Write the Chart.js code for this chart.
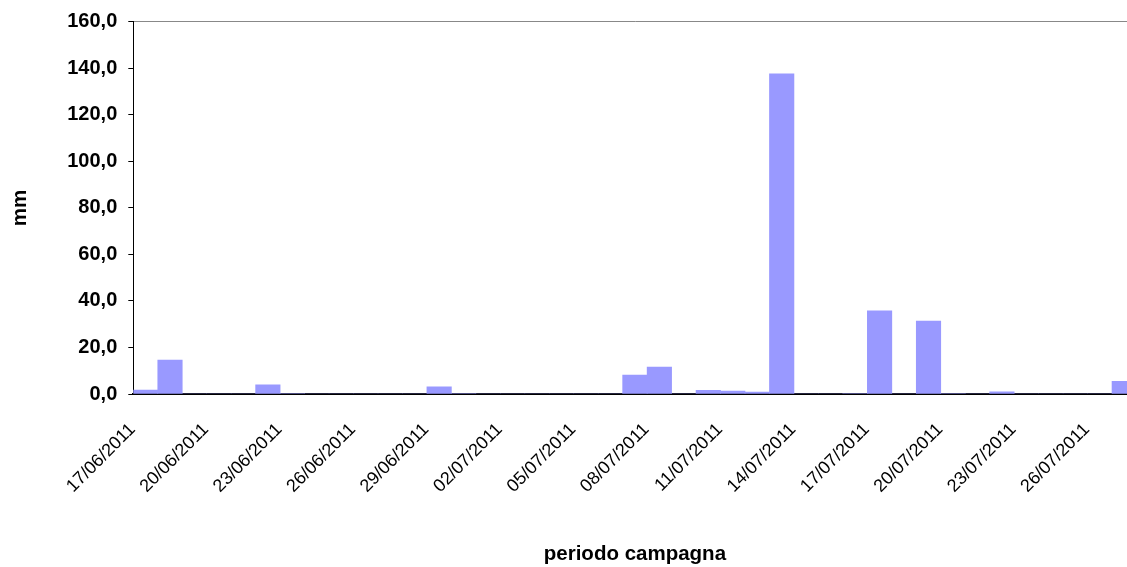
<!DOCTYPE html>
<html>
<head>
<meta charset="utf-8">
<script src="https://cdn.jsdelivr.net/npm/chart.js@4/dist/chart.umd.min.js"></script>
<style>
html,body{margin:0;padding:0;overflow:hidden;background:#fff;}
canvas{display:block;}
</style>
</head>
<body>
<canvas id="c" width="1140" height="567"></canvas>
<script>
const categories = [
  "17/06/2011","18/06/2011","19/06/2011","20/06/2011","21/06/2011","22/06/2011","23/06/2011",
  "24/06/2011","25/06/2011","26/06/2011","27/06/2011","28/06/2011","29/06/2011","30/06/2011",
  "01/07/2011","02/07/2011","03/07/2011","04/07/2011","05/07/2011","06/07/2011","07/07/2011",
  "08/07/2011","09/07/2011","10/07/2011","11/07/2011","12/07/2011","13/07/2011","14/07/2011",
  "15/07/2011","16/07/2011","17/07/2011","18/07/2011","19/07/2011","20/07/2011","21/07/2011",
  "22/07/2011","23/07/2011","24/07/2011","25/07/2011","26/07/2011","27/07/2011"
];
const rainfall = [
  1.7, 14.6, 0, 0, 0, 3.9, 0.2,
  0, 0, 0, 0, 0, 3.1, 0.2,
  0, 0, 0, 0, 0, 0, 8.1,
  11.6, 0, 1.6, 1.3, 0.8, 137.6, 0,
  0, 0.2, 35.7, 0, 31.4, 0.2, 0,
  0.9, 0, 0, 0, 0, 5.5
];
const yTicks = [0, 20, 40, 60, 80, 100, 120, 140, 160];
const xTitle = "periodo campagna";
const yTitle = "mm";

const FONT = "'Liberation Sans', Arial, sans-serif";

new Chart(document.getElementById('c'), {
  type: 'bar',
  data: {
    labels: categories,
    datasets: [{
      data: rainfall,
      backgroundColor: '#9999FF',
      borderWidth: 0,
      barPercentage: 1.0,
      categoryPercentage: 1.0
    }]
  },
  options: {
    responsive: false,
    animation: false,
    layout: { padding: { top: 21.8, right: 3.5, bottom: 0, left: 0 } },
    plugins: { legend: { display: false }, tooltip: { enabled: false } },
    scales: {
      x: {
        grid: { display: false, drawTicks: false },
        border: { display: true, color: '#000', width: 2 },
        ticks: {
          autoSkip: false,
          maxRotation: 45,
          minRotation: 45,
          padding: 25,
          labelOffset: -13,
          color: '#000',
          font: { family: FONT, size: 18 },
          callback: function(v, i) { return i % 3 === 0 ? categories[i] : ''; }
        },
        title: {
          display: true,
          text: xTitle,
          color: '#000',
          font: { family: FONT, size: 20.5, weight: 'bold' },
          padding: { top: 0, bottom: 0 }
        },
        afterFit: function(s) { s.height = 173; s.paddingLeft = 0; s.paddingRight = 0; }
      },
      y: {
        min: 0,
        max: 160,
        afterBuildTicks: function(s) { s.ticks = yTicks.map(v => ({ value: v })); },
        grid: {
          drawTicks: true,
          tickLength: 5,
          tickColor: '#000',
          color: function(ctx) { return (ctx.tick && ctx.tick.value === 160) ? '#888' : 'rgba(0,0,0,0)'; }
        },
        border: { display: true, color: '#000', width: 1 },
        ticks: {
          padding: 11,
          color: '#000',
          font: { family: FONT, size: 20, weight: 'bold' },
          callback: function(v) { return Number(v).toFixed(1).replace('.', ','); }
        },
        title: {
          display: true,
          text: yTitle,
          color: '#000',
          font: { family: FONT, size: 20.5, weight: 'bold' },
          padding: { top: 8, bottom: 0 }
        },
        afterFit: function(s) { s.width = 133.3; s.paddingTop = 0; s.paddingBottom = 0; }
      }
    }
  }
});
</script>
</body>
</html>
